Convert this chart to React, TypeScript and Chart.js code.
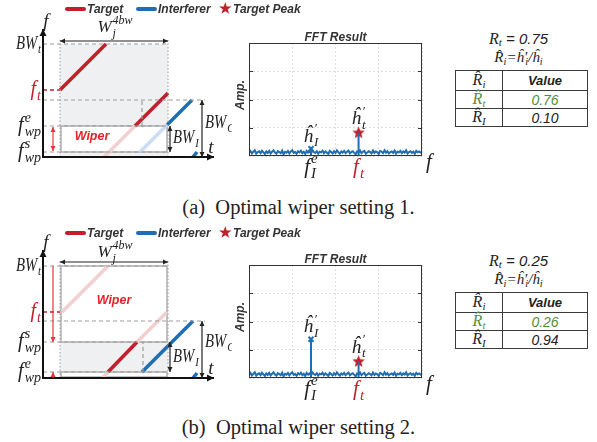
import React, { useEffect, useRef } from "react";
import { Chart, registerables } from "chart.js";
Chart.register(...registerables);

const RED = "#c21f2b";
const PINK = "#f3cfcf";
const BLUE = "#1f6db4";
const LIGHTBLUE = "#c8def0";
const GREEN = "#4f8d3b";
const INK = "#222222";
const SERIF = '"Liberation Serif", "DejaVu Serif", serif';
const SANS = '"Liberation Sans", Arial, sans-serif';

type Seg = [number, number][];
type Rect = [number, number, number, number];
type Arrow = { p: [number, number, number, number]; both: boolean };

// ---------- legend ----------
const legendLabels = ["Target", "Interferer", "Target Peak"];

// ---------- FFT data ----------
const fftNoise = [
  0.12, 0.18, 0.09, 0.15, 0.2, 0.08, 0.14, 0.17, 0.1, 0.19,
  0.13, 0.07, 0.16, 0.11, 0.18, 0.09, 0.15, 0.2, 0.12, 0.08,
  0.17, 0.14, 0.1, 0.19, 0.06, 0.15, 0.12, 0.18, 0.09, 0.16,
  0.2, 0.11, 0.14, 0.08, 0.17, 0.13, 0.19, 0.1, 0.15, 0.07,
  0.18, 0.12, 0.16, 0.09, 0.2, 0.14, 0.11, 0.17, 0.08, 0.15,
  0.13, 0.19, 0.1, 0.16, 0.12, 0.07, 0.18, 0.14, 0.09, 0.17,
  0.11, 0.2, 0.13, 0.08, 0.16, 0.12, 0.18, 0.1, 0.15, 0.19,
  0.09, 0.14, 0.17, 0.11, 0.06, 0.16, 0.13, 0.2, 0.1, 0.15,
  0.18, 0.08, 0.12, 0.17, 0.14, 0.09, 0.19, 0.11, 0.16, 0.13,
  0.07, 0.18, 0.15, 0.1, 0.2, 0.12, 0.17, 0.09, 0.14, 0.16,
  0.11, 0.19, 0.08, 0.15, 0.13, 0.18, 0.1, 0.16, 0.12, 0.2,
  0.09, 0.14, 0.17, 0.11, 0.15, 0.08, 0.18, 0.13, 0.16, 0.12,
  0.14,
];
const peakBins = [43, 76]; // interferer, target
const peakAmpA = [0.26, 0.82];
const peakAmpB = [1.37, 0.58];

// ---------- tables ----------
const ratioA = "0.75";
const ratioB = "0.25";
const tableValuesA = ["0.76", "0.10"];
const tableValuesB = ["0.26", "0.94"];

// ---------- schematic (a) ----------
const targetSolidA: Seg[] = [[[17, 67], [63, 113]], [[92, 31], [125, 64]]];
const targetFadedA: Seg[] = [[[61, 0], [92, 31]]];
const interfSolidA: Seg[] = [[[124, 32], [149, 57]], [[150, 0], [154, 5]]];
const interfFadedA: Seg[] = [[[97, 5], [124, 32]]];
const dashedA: Seg[] = [[[0, 113], [125, 113]], [[0, 57], [162, 57]], [[0, 31], [125, 31]], [[0, 5], [125, 5]], [[99, 31], [99, 57]]];
const redDashA: Seg[] = [[[0, 67], [17, 67]]];
const dottedA: Seg[] = [[[17, 0], [17, 118]], [[125, 0], [125, 118]]];
const shadeA: Rect[] = [[17, 0, 125, 113]];
const boxesA: Rect[] = [[17, 5, 125, 31]];
const blackArrowsA: Arrow[] = [
  { p: [17, 116, 125, 116], both: true },
  { p: [127, 5, 127, 31], both: true },
  { p: [159, 0, 159, 57], both: true },
];
const redArrowsA: Arrow[] = [{ p: [10, 6, 10, 30], both: true }];
const levelValuesA = [113, 67, 31, 5];
const levelNamesA: [string, string, string][] = [["BW", "t", ""], ["f", "t", ""], ["f", "wp", "e"], ["f", "wp", "s"]];
const wiperPosA: [number, number] = [49, 20];
const widthPosA: [number, number] = [72, 129];
const bwiPosA: [number, number] = [130, 19];
const bwcPosA: [number, number] = [162, 34];

// ---------- schematic (b) ----------
const targetSolidB: Seg[] = [[[65, 6], [94, 36]]];
const targetFadedB: Seg[] = [[[19, 66], [65, 112]], [[59, 0], [65, 6]], [[94, 36], [124, 66]]];
const interfSolidB: Seg[] = [[[99, 6], [150, 57]], [[150, 0], [154, 5]]];
const interfFadedB: Seg[] = [];
const dashedB: Seg[] = [[[0, 112], [125, 112]], [[0, 57], [162, 57]], [[0, 36], [125, 36]], [[0, 6], [125, 6]], [[100, 6], [100, 36]]];
const redDashB: Seg[] = [[[0, 66], [17, 66]]];
const dottedB: Seg[] = [[[17, 0], [17, 118]], [[125, 0], [125, 118]]];
const shadeB: Rect[] = [[17, 6, 125, 36]];
const boxesB: Rect[] = [[17, 36, 125, 112], [17, 1, 125, 6]];
const blackArrowsB: Arrow[] = [
  { p: [17, 116, 125, 116], both: true },
  { p: [127, 6, 127, 36], both: true },
  { p: [159, 0, 159, 57], both: true },
];
const redArrowsB: Arrow[] = [{ p: [10, 112, 10, 36], both: false }, { p: [10, 0, 10, 6], both: false }];
const levelValuesB = [112, 66, 36, 6];
const levelNamesB: [string, string, string][] = [["BW", "t", ""], ["f", "t", ""], ["f", "wp", "s"], ["f", "wp", "e"]];
const wiperPosB: [number, number] = [71, 77];
const widthPosB: [number, number] = [72, 125];
const bwiPosB: [number, number] = [130, 21];
const bwcPosB: [number, number] = [162, 36];

// ---------- helpers ----------
function drawMath(
  ctx: CanvasRenderingContext2D,
  x: number,
  y: number,
  main: string,
  sub: string,
  sup: string,
  size: number,
  color: string,
  align: "left" | "center" | "right",
  hs = 1
) {
  const mainFont = `italic ${size}px ${SERIF}`;
  const ss = Math.round(size * 0.7);
  const scriptFont = `italic ${ss}px ${SERIF}`;
  ctx.save();
  ctx.font = mainFont;
  const wm = ctx.measureText(main).width;
  ctx.font = scriptFont;
  const ws = Math.max(sub ? ctx.measureText(sub).width : 0, sup ? ctx.measureText(sup).width : 0);
  const total = (wm + (ws ? ws + 1 : 0)) * hs;
  const x0 = align === "left" ? x : align === "center" ? x - total / 2 : x - total;
  ctx.translate(x0, y);
  ctx.scale(hs, 1);
  ctx.fillStyle = color;
  ctx.textAlign = "left";
  ctx.textBaseline = "middle";
  ctx.font = mainFont;
  ctx.fillText(main, 0, 0);
  ctx.font = scriptFont;
  if (sub) ctx.fillText(sub, wm + 1, size * 0.33);
  if (sup) ctx.fillText(sup, wm + 1, -size * 0.4);
  ctx.restore();
}

function drawArrow(
  ctx: CanvasRenderingContext2D,
  x1: number, y1: number, x2: number, y2: number,
  color: string, width: number, both: boolean, head = 6
) {
  const ang = Math.atan2(y2 - y1, x2 - x1);
  ctx.strokeStyle = color;
  ctx.fillStyle = color;
  ctx.lineWidth = width;
  ctx.beginPath();
  ctx.moveTo(x1, y1);
  ctx.lineTo(x2, y2);
  ctx.stroke();
  const headAt = (x: number, y: number, a: number) => {
    ctx.beginPath();
    ctx.moveTo(x, y);
    ctx.lineTo(x - head * Math.cos(a) + head * 0.5 * Math.sin(a), y - head * Math.sin(a) - head * 0.5 * Math.cos(a));
    ctx.lineTo(x - head * Math.cos(a) - head * 0.5 * Math.sin(a), y - head * Math.sin(a) + head * 0.5 * Math.cos(a));
    ctx.closePath();
    ctx.fill();
  };
  headAt(x2, y2, ang);
  if (both) headAt(x1, y1, ang + Math.PI);
}

function makeStar(r: number, color: string) {
  const c = document.createElement("canvas");
  const s = Math.ceil(r * 2 + 2);
  c.width = s;
  c.height = s;
  const g = c.getContext("2d")!;
  g.fillStyle = color;
  g.beginPath();
  for (let i = 0; i < 10; i++) {
    const a = -Math.PI / 2 + (i * Math.PI) / 5;
    const rr = i % 2 === 0 ? r : r * 0.45;
    const px = s / 2 + rr * Math.cos(a);
    const py = s / 2 + rr * Math.sin(a);
    if (i === 0) g.moveTo(px, py);
    else g.lineTo(px, py);
  }
  g.closePath();
  g.fill();
  return c;
}

function seg(points: Seg, color: string, width: number, dash: number[] = []) {
  return {
    data: points.map(([x, y]) => ({ x, y })),
    showLine: true,
    borderColor: color,
    borderWidth: width,
    borderDash: dash,
    borderCapStyle: "butt" as const,
    pointRadius: 0,
    fill: false,
  };
}

// ---------- legend ----------
function Legend({ top }: { top: number }) {
  const txt: React.CSSProperties = {
    position: "absolute", top, font: `bold italic 12px ${SANS}`, color: "#333", lineHeight: "14px", whiteSpace: "nowrap",
  };
  const line = (left: number, color: string): React.CSSProperties => ({
    position: "absolute", left, top: top + 5, width: 21, height: 4, borderRadius: 2, background: color,
  });
  return (
    <>
      <div style={line(65, RED)} />
      <div style={{ ...txt, left: 87 }}>{legendLabels[0]}</div>
      <div style={line(136, BLUE)} />
      <div style={{ ...txt, left: 158 }}>{legendLabels[1]}</div>
      <div style={{ ...txt, left: 219, color: RED, fontStyle: "normal", fontSize: 14, top: top - 1 }}>★</div>
      <div style={{ ...txt, left: 233 }}>{legendLabels[2]}</div>
    </>
  );
}

// ---------- schematic ----------
type SchemCfg = {
  targetSolid: Seg[]; targetFaded: Seg[]; interfSolid: Seg[]; interfFaded: Seg[];
  dashed: Seg[]; redDash: Seg[]; dotted: Seg[]; shade: Rect[]; boxes: Rect[];
  blackArrows: Arrow[]; redArrows: Arrow[]; levels: number[]; names: [string, string, string][];
  wiperPos: [number, number]; widthPos: [number, number]; bwiPos: [number, number]; bwcPos: [number, number];
};

function Schematic({ top, cfg }: { top: number; cfg: SchemCfg }) {
  const ref = useRef<HTMLCanvasElement>(null);
  useEffect(() => {
    const decor = {
      id: "schemDecor",
      beforeDatasetsDraw(chart: any) {
        const { ctx, scales: { x, y } } = chart;
        ctx.save();
        ctx.fillStyle = "#eff0f2";
        for (const [a, b, c, d] of cfg.shade) {
          const X1 = x.getPixelForValue(a), X2 = x.getPixelForValue(c);
          const Y1 = y.getPixelForValue(d), Y2 = y.getPixelForValue(b);
          ctx.fillRect(X1, Y1, X2 - X1, Y2 - Y1);
        }
        for (const [a, b, c, d] of cfg.boxes) {
          const X1 = x.getPixelForValue(a) + 1, X2 = x.getPixelForValue(c) - 1;
          const Y1 = y.getPixelForValue(d), Y2 = y.getPixelForValue(b);
          ctx.fillStyle = "#ffffff";
          ctx.fillRect(X1, Y1, X2 - X1, Y2 - Y1);
          ctx.strokeStyle = "#a4a4a4";
          ctx.lineWidth = 1.3;
          ctx.strokeRect(X1, Y1, X2 - X1, Y2 - Y1);
        }
        ctx.restore();
      },
      afterDatasetsDraw(chart: any) {
        const { ctx, scales: { x, y } } = chart;
        const X = (v: number) => x.getPixelForValue(v);
        const Y = (v: number) => y.getPixelForValue(v);
        ctx.save();
        drawArrow(ctx, X(0), Y(0) + 1, X(0), Y(128), "#111", 2, false, 7);
        drawArrow(ctx, X(0) - 1, Y(0), X(171), Y(0), "#111", 2, false, 7);
        for (const a of cfg.blackArrows) drawArrow(ctx, X(a.p[0]), Y(a.p[1]), X(a.p[2]), Y(a.p[3]), "#222", 1.2, a.both, 5);
        for (const a of cfg.redArrows) drawArrow(ctx, X(a.p[0]), Y(a.p[1]), X(a.p[2]), Y(a.p[3]), "#e8353b", 1.2, a.both, 5);
        cfg.levels.forEach((lv, i) => {
          const [m, s, p] = cfg.names[i];
          if (m === "BW") drawMath(ctx, X(0) - 2, Y(lv), m, s, p, 18, INK, "right", 0.82);
          else drawMath(ctx, X(0) - 2, Y(lv), m, s, p, 20, i === 1 ? RED : INK, "right");
        });
        drawMath(ctx, X(3), Y(135), "f", "", "", 19, INK, "center");
        drawMath(ctx, X(168), Y(9), "t", "", "", 19, INK, "center");
        drawMath(ctx, X(cfg.widthPos[0]), Y(cfg.widthPos[1]), "W", "j", "4bw", 17, INK, "center");
        drawMath(ctx, X(cfg.bwiPos[0]), Y(cfg.bwiPos[1]), "BW", "I", "", 18, INK, "left", 0.82);
        drawMath(ctx, X(cfg.bwcPos[0]), Y(cfg.bwcPos[1]), "BW", "C", "", 18, INK, "left", 0.82);
        ctx.font = `bold italic 12.5px ${SANS}`;
        ctx.fillStyle = "#e8202a";
        ctx.textAlign = "center";
        ctx.textBaseline = "middle";
        ctx.fillText("Wiper", X(cfg.wiperPos[0]), Y(cfg.wiperPos[1]));
        ctx.restore();
      },
    };
    const datasets: any[] = [
      ...cfg.dotted.map((s) => seg(s, "#9c9c9c", 1, [1.5, 2])),
      ...cfg.dashed.map((s) => seg(s, "#9c9c9c", 1.2, [4, 3])),
      ...cfg.redDash.map((s) => seg(s, RED, 1.5, [4, 3])),
      ...cfg.targetFaded.map((s) => seg(s, PINK, 3.6)),
      ...cfg.interfFaded.map((s) => seg(s, LIGHTBLUE, 3.6)),
      ...cfg.targetSolid.map((s) => seg(s, RED, 3.6)),
      ...cfg.interfSolid.map((s) => seg(s, BLUE, 3.6)),
    ];
    const chart = new Chart(ref.current!, {
      type: "scatter",
      data: { datasets },
      options: {
        animation: false,
        responsive: false,
        events: [],
        layout: { padding: { left: 43, right: 19, top: 17, bottom: 18 } },
        plugins: { legend: { display: false }, tooltip: { enabled: false } },
        scales: {
          x: { type: "linear", min: 0, max: 170, display: false },
          y: { type: "linear", min: 0, max: 140, display: false },
        },
      },
      plugins: [decor],
    } as any);
    return () => chart.destroy();
  }, [cfg]);
  return <canvas ref={ref} width={232} height={175} style={{ position: "absolute", left: 0, top, width: 232, height: 175 }} />;
}

// ---------- FFT ----------
function FFTPanel({ top, amps }: { top: number; amps: number[] }) {
  const ref = useRef<HTMLCanvasElement>(null);
  useEffect(() => {
    const star = makeStar(6.5, RED);
    const decor = {
      id: "fftDecor",
      afterDraw(chart: any) {
        const { ctx, chartArea: a, scales: { x, y } } = chart;
        ctx.save();
        ctx.strokeStyle = "#333";
        ctx.lineWidth = 1;
        ctx.strokeRect(a.left + 0.5, a.top + 0.5, a.right - a.left - 1, a.bottom - a.top - 1);
        ctx.beginPath();
        for (const v of [1, 2, 3]) {
          const py = Math.round(y.getPixelForValue(v)) + 0.5;
          ctx.moveTo(a.left, py); ctx.lineTo(a.left + 4, py);
          ctx.moveTo(a.right - 4, py); ctx.lineTo(a.right, py);
        }
        ctx.stroke();
        ctx.fillStyle = "#333";
        ctx.font = `bold italic 12px ${SANS}`;
        ctx.textAlign = "center";
        ctx.textBaseline = "alphabetic";
        ctx.fillText("FFT Result", (a.left + a.right) / 2, a.top - 2);
        ctx.save();
        ctx.translate(a.left - 8, a.top + (a.bottom - a.top) * 0.46);
        ctx.rotate(-Math.PI / 2);
        ctx.textBaseline = "middle";
        ctx.fillText("Amp.", 0, 0);
        ctx.restore();
        const xi = x.getPixelForValue(peakBins[0]);
        const xt = x.getPixelForValue(peakBins[1]);
        drawMath(ctx, xi, a.bottom + 11, "f", "I", "e", 21, INK, "center");
        drawMath(ctx, xt, a.bottom + 11, "f", "t", "", 21, RED, "center");
        drawMath(ctx, a.right + 7, a.bottom + 6, "f", "", "", 21, INK, "center");
        drawMath(ctx, xi, y.getPixelForValue(amps[0]) - 12, "ĥ", "I", "′", 19, INK, "center");
        drawMath(ctx, xt, y.getPixelForValue(amps[1]) - 14, "ĥ", "t", "′", 19, INK, "center");
        ctx.restore();
      },
    };
    const gridOpt = { color: "#dedede", drawTicks: false, lineWidth: 1 };
    const chart = new Chart(ref.current!, {
      type: "scatter",
      data: {
        datasets: [
          { data: fftNoise.map((v, i) => ({ x: i, y: v })), showLine: true, borderColor: BLUE, borderWidth: 2, pointRadius: 0 },
          {
            data: [{ x: peakBins[0], y: 0 }, { x: peakBins[0], y: amps[0] }], showLine: true, borderColor: BLUE, borderWidth: 2,
            pointRadius: [0, 3.5], pointStyle: "crossRot", pointBorderColor: BLUE, pointBorderWidth: 2, pointBackgroundColor: BLUE,
          },
          { data: [{ x: peakBins[1], y: 0 }, { x: peakBins[1], y: amps[1] }], showLine: true, borderColor: BLUE, borderWidth: 2, pointRadius: 0 },
          { data: [{ x: peakBins[1], y: amps[1] }], pointStyle: star, pointRadius: 6 },
        ],
      },
      options: {
        animation: false,
        responsive: false,
        events: [],
        layout: { padding: { left: 17, right: 15, top: 23, bottom: 24 } },
        plugins: { legend: { display: false }, tooltip: { enabled: false } },
        scales: {
          x: { type: "linear", min: 0, max: fftNoise.length - 1, ticks: { display: false, stepSize: (fftNoise.length - 1) / 4 }, grid: gridOpt, border: { display: false, dash: [2, 2] } },
          y: { type: "linear", min: 0, max: 4, ticks: { display: false, stepSize: 1 }, grid: gridOpt, border: { display: false, dash: [2, 2] } },
        },
      },
      plugins: [decor],
    } as any);
    return () => chart.destroy();
  }, [amps]);
  return <canvas ref={ref} width={205} height={160} style={{ position: "absolute", left: 232, top, width: 205, height: 160 }} />;
}

// ---------- table ----------
const mathI: React.CSSProperties = { fontFamily: SERIF, fontStyle: "italic" };
function Hat({ ch, sub, prime }: { ch: string; sub: string; prime?: boolean }) {
  return (
    <span style={{ ...mathI, whiteSpace: "nowrap" }}>
      {ch}
      {"\u0302"}
      {prime ? "′" : ""}
      <sub style={{ fontSize: "0.68em", verticalAlign: "-0.25em", marginLeft: prime ? -2 : 0 }}>{sub}</sub>
    </span>
  );
}

function ResultTable({ top, ratio, values }: { top: number; ratio: string; values: string[] }) {
  const cell: React.CSSProperties = { background: "#fff", display: "flex", alignItems: "center", justifyContent: "center", lineHeight: 1 };
  const val: React.CSSProperties = { fontFamily: SANS, fontStyle: "italic", fontSize: 14 };
  return (
    <>
      <div style={{ position: "absolute", left: 440, width: 157, top: top - 40, height: 18, textAlign: "center", color: INK, lineHeight: "18px" }}>
        <span style={{ ...mathI, fontSize: 16 }}>R<sub style={{ fontSize: 11, verticalAlign: "-0.2em", lineHeight: 0 }}>t</sub></span>
        <span style={{ fontFamily: SANS, fontStyle: "italic", fontSize: 15 }}> = {ratio}</span>
      </div>
      <div style={{ position: "absolute", left: 440, width: 157, top: top - 21, height: 17, textAlign: "center", color: INK, fontSize: 15, lineHeight: "17px" }}>
        <Hat ch="R" sub="i" />
        <span style={mathI}>=</span>
        <Hat ch="h" sub="i" prime />
        <span style={mathI}>/</span>
        <Hat ch="h" sub="i" />
      </div>
      <div
        style={{
          position: "absolute", left: 455, top, display: "grid", gridTemplateColumns: "46px 84px", gridTemplateRows: "19px 17px 17px",
          gap: 1, padding: 1, background: "#3a3a3a", color: INK,
        }}
      >
        <div style={{ ...cell, fontSize: 16 }}><Hat ch="R" sub="i" /></div>
        <div style={{ ...cell, fontFamily: SANS, fontStyle: "italic", fontWeight: "bold", fontSize: 13 }}>Value</div>
        <div style={{ ...cell, fontSize: 16, color: GREEN }}><Hat ch="R" sub="t" /></div>
        <div style={{ ...cell, ...val, color: GREEN }}>{values[0]}</div>
        <div style={{ ...cell, fontSize: 16 }}><Hat ch="R" sub="I" /></div>
        <div style={{ ...cell, ...val }}>{values[1]}</div>
      </div>
    </>
  );
}

function Caption({ top, text }: { top: number; text: string }) {
  return (
    <div style={{ position: "absolute", left: 0, width: 597, top, textAlign: "center", fontFamily: SERIF, fontSize: 20.5, lineHeight: "22px", color: INK, whiteSpace: "pre" }}>
      {text}
    </div>
  );
}

const cfgA: SchemCfg = {
  targetSolid: targetSolidA, targetFaded: targetFadedA, interfSolid: interfSolidA, interfFaded: interfFadedA,
  dashed: dashedA, redDash: redDashA, dotted: dottedA, shade: shadeA, boxes: boxesA,
  blackArrows: blackArrowsA, redArrows: redArrowsA, levels: levelValuesA, names: levelNamesA,
  wiperPos: wiperPosA, widthPos: widthPosA, bwiPos: bwiPosA, bwcPos: bwcPosA,
};
const cfgB: SchemCfg = {
  targetSolid: targetSolidB, targetFaded: targetFadedB, interfSolid: interfSolidB, interfFaded: interfFadedB,
  dashed: dashedB, redDash: redDashB, dotted: dottedB, shade: shadeB, boxes: boxesB,
  blackArrows: blackArrowsB, redArrows: redArrowsB, levels: levelValuesB, names: levelNamesB,
  wiperPos: wiperPosB, widthPos: widthPosB, bwiPos: bwiPosB, bwcPos: bwcPosB,
};

export default function App() {
  return (
    <div style={{ position: "absolute", left: 0, top: 0, width: 597, height: 442, background: "#fff", overflow: "hidden" }}>
      <Schematic top={0} cfg={cfgA} />
      <Legend top={2} />
      <FFTPanel top={20} amps={peakAmpA} />
      <ResultTable top={70} ratio={ratioA} values={tableValuesA} />
      <Caption top={196} text={"(a)\u2002Optimal wiper setting 1."} />

      <Schematic top={221} cfg={cfgB} />
      <Legend top={226} />
      <FFTPanel top={242} amps={peakAmpB} />
      <ResultTable top={292} ratio={ratioB} values={tableValuesB} />
      <Caption top={416} text={"(b)\u2002Optimal wiper setting 2."} />
    </div>
  );
}
